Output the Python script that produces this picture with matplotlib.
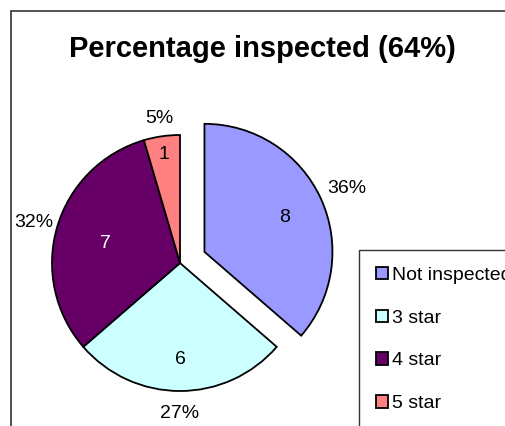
import numpy as np
import matplotlib.pyplot as plt
from matplotlib.patches import Rectangle

plt.rcParams["font.family"] = ["Liberation Sans", "DejaVu Sans"]

categories = ["Not inspected", "3 star", "4 star", "5 star"]
counts = [8, 6, 7, 1]
colors = ["#9999FF", "#CCFFFF", "#660066", "#FF8080"]
value_text_colors = ["black", "black", "white", "black"]
title = "Percentage inspected (64%)"

W, H = 506, 426
fig = plt.figure(figsize=(W / 100, H / 100), dpi=100)

# outer chart frame (right/bottom edges fall outside the picture)
fig.patches.append(Rectangle((11 / W, -0.1), 1.2, 1 - 11 / H + 0.1,
                             transform=fig.transFigure, fill=False,
                             edgecolor="#333333", linewidth=1.2))

# pie axes: center (180, 263) px, radius 130 px
cx, cy, R, S = 180, 263, 130, 160
ax = fig.add_axes([(cx - S) / W, 1 - (cy + S) / H, 2 * S / W, 2 * S / H])
lim = S / R
ax.set_xlim(-lim, lim)
ax.set_ylim(-lim, lim)
ax.set_aspect("equal")
ax.axis("off")

wedges, _ = ax.pie(counts, colors=colors, startangle=90, counterclock=False,
                   explode=[0.21, 0, 0, 0], radius=1.0,
                   wedgeprops=dict(edgecolor="black", linewidth=1.3))

total = sum(counts)
inner_dist = [0.69, 0.74, 0.61, 0.87]
outer_dist = [1.22, 1.16, 1.19, 1.16]
for w, n, tc, di, do in zip(wedges, counts, value_text_colors, inner_dist, outer_dist):
    mid = np.deg2rad((w.theta1 + w.theta2) / 2)
    x0, y0 = w.center
    ax.text(x0 + di * np.cos(mid), y0 + di * np.sin(mid), str(n),
            ha="center", va="center_baseline", fontsize=14, color=tc)
    ax.text(x0 + do * np.cos(mid), y0 + do * np.sin(mid),
            f"{100 * n / total:.0f}%", ha="center", va="center_baseline",
            fontsize=14)

fig.text(262 / W, 1 - 49 / H, title, ha="center", va="center",
         fontsize=21, fontweight="bold")

leg = fig.legend(wedges, categories, loc="upper left",
                 bbox_to_anchor=(359 / W, 1 - 250 / H), fontsize=14,
                 frameon=True, fancybox=False, edgecolor="black",
                 handlelength=0.62, handleheight=0.62, handletextpad=0.2,
                 labelspacing=1.32, borderpad=0.86, borderaxespad=0)
leg.get_frame().set_linewidth(1.0)
for h in leg.legend_handles:
    h.set_edgecolor("black")
    h.set_linewidth(1.3)

fig.savefig("out.png", dpi=100)
